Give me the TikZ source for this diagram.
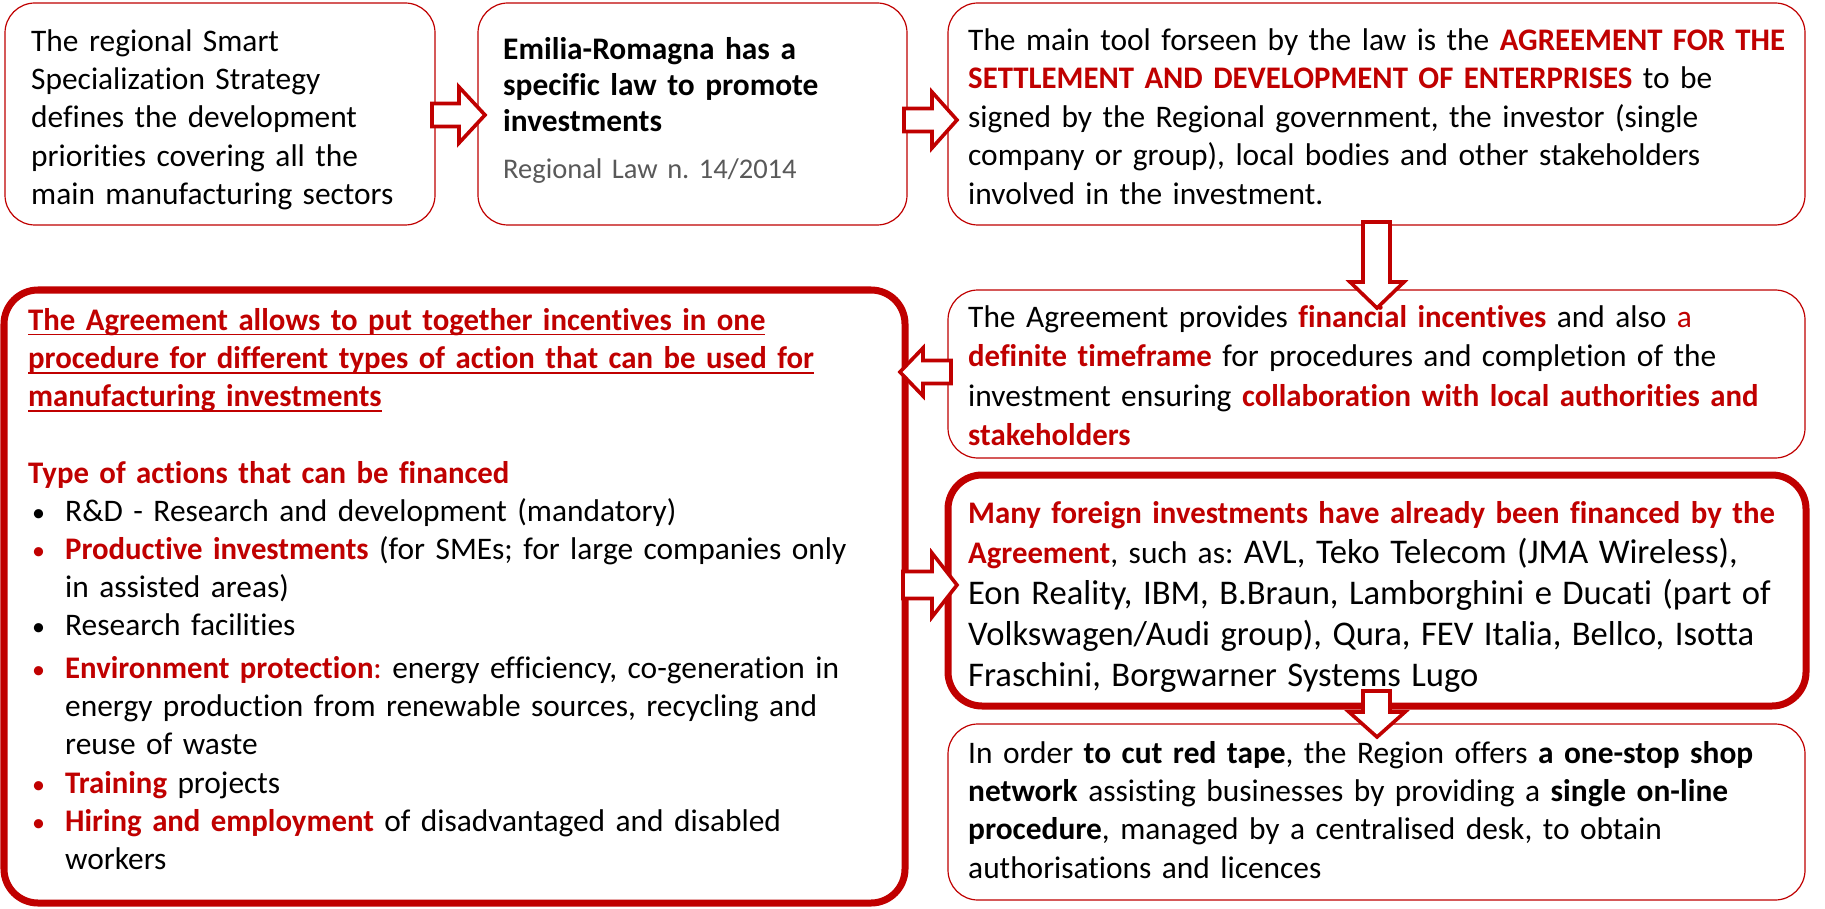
\documentclass[tikz,border=0pt]{standalone}
\usepackage{fontspec}
\setmainfont{Carlito}[Ligatures=NoCommon]
\definecolor{rd}{HTML}{C00000}
\definecolor{gr}{HTML}{595959}
\newcommand\rb[1]{{\color{rd}\bfseries\addfontfeatures{FakeStretch=0.98}#1}}
\newcommand\bl[1]{\leavevmode\hspace*{4pt}\makebox[33pt][l]{\color{#1}\fontsize{26}{30}\selectfont\textbullet}}
\newcommand\cont{\leavevmode\hspace*{37pt}}
\newcommand\fst{\leavevmode\rule{0pt}{26pt}}
\newsavebox\ulbox
\newcommand\myul[1]{\leavevmode\sbox\ulbox{#1}\rlap{\rule[-5.2pt]{\wd\ulbox}{1.7pt}}\usebox\ulbox}
\frenchspacing
\begin{document}
\begin{tikzpicture}[x=1pt,y=-1pt,
  thinbox/.style={draw=rd, line width=1.2pt, rounded corners=30pt, fill=white, inner sep=0pt},
  thickbox/.style={draw=rd, line width=7pt, rounded corners=34pt, fill=white, inner sep=0pt},
  txt/.style={anchor=north west, inner sep=0pt, align=left, text width=#1},
  txt/.default=870pt,
  blockarrow/.style={draw=rd, fill=white, line width=3.6pt, line join=miter}
]
\fill[white] (0,0) rectangle (1825,909);
\useasboundingbox (0,0) rectangle (1825,909);

% boxes
\node[thinbox, minimum width=430pt, minimum height=222pt] (b1) at (220,114) {};
\node[thinbox, minimum width=429pt, minimum height=222pt] (b2) at (692.5,114) {};
\node[thinbox, minimum width=857pt, minimum height=222pt] (b3) at (1376.5,114) {};
\node[thinbox, minimum width=857pt, minimum height=168pt] (b4) at (1376.5,374) {};
\node[thickbox, minimum width=901pt, minimum height=613pt] (big) at (454.5,596.5) {};
\node[thickbox, minimum width=858pt, minimum height=231pt] (b5) at (1377,590.5) {};
\node[thinbox, minimum width=857pt, minimum height=176pt] (b6) at (1376.5,812) {};

% texts
\node[txt=420pt, font=\fontsize{31.4}{38.4}\selectfont] (t1) at (31,25) {\fst The regional Smart\\
Specialization Strategy\\
defines the development\\
priorities covering all the\\
main manufacturing sectors};

\node[txt=420pt, font=\fontsize{31.4}{36}\bfseries\selectfont] (t2) at (503,33) {\fst Emilia-Romagna has a\\
specific law to promote\\
investments};
\node[txt=420pt, font=\fontsize{28.5}{36}\selectfont, text=gr] (t2b) at (503,152.5) {\fst Regional Law n. 14/2014};

\node[txt=850pt, font=\fontsize{31.4}{38.6}\selectfont] (t3) at (968,24) {\fst The main tool forseen by the law is the \rb{AGREEMENT FOR THE}\\
\rb{SETTLEMENT AND DEVELOPMENT OF ENTERPRISES} to be\\
signed by the Regional government, the investor (single\\
company or group), local bodies and other stakeholders\\
involved in the investment.};

\node[txt=850pt, font=\fontsize{31.4}{39.2}\selectfont] (t4) at (968,301.5) {\fst The Agreement provides \rb{financial incentives} and also {\color{rd}a}\\
\rb{definite timeframe} for procedures and completion of the\\
investment ensuring \rb{collaboration with local authorities and}\\
\rb{stakeholders}};

\node[txt=870pt, font=\fontsize{31.4}{38.2}\selectfont] (t5) at (28,304) {\fst{\color{rd}\bfseries\addfontfeatures{FakeStretch=0.98}\myul{The Agreement allows to put together incentives in one}}\\
{\color{rd}\bfseries\addfontfeatures{FakeStretch=0.98}\myul{procedure for different types of action that can be used for}}\\
{\color{rd}\bfseries\addfontfeatures{FakeStretch=0.98}\myul{manufacturing investments}}\\
\mbox{}\\
\rb{Type of actions that can be financed}\\
\bl{black}R\&D - Research and development (mandatory)\\
\bl{rd}\rb{Productive investments} (for SMEs; for large companies only\\
\cont in assisted areas)\\
\bl{black}Research facilities\\[4.5pt]
\bl{rd}\rb{Environment protection}{\color{rd}:} energy efficiency, co-generation in\\
\cont energy production from renewable sources, recycling and\\
\cont reuse of waste\\
\bl{rd}\rb{Training} projects\\
\bl{rd}\rb{Hiring and employment} of disadvantaged and disabled\\
\cont workers};

\node[txt=850pt, font=\fontsize{31.4}{40.7}\selectfont] (t6) at (968,497) {\fst\rb{Many foreign investments have already been financed by the}\\
\rb{Agreement}, such as: {\fontsize{34.6}{40.7}\selectfont AVL, Teko Telecom (JMA Wireless),}\\
{\fontsize{34.6}{40.7}\selectfont Eon Reality, IBM, B.Braun, Lamborghini e Ducati (part of}\\
{\fontsize{34.6}{40.7}\selectfont Volkswagen/Audi group), Qura, FEV Italia, Bellco, Isotta}\\
{\fontsize{34.6}{40.7}\selectfont Fraschini, Borgwarner Systems Lugo}};

\node[txt=850pt, font=\fontsize{31.4}{38.3}\selectfont] (t7) at (968,737) {\fst In order \textbf{to cut red tape}, the Region offers \textbf{a one-stop shop}\\
\textbf{network} assisting businesses by providing a \textbf{single on-line}\\
\textbf{procedure}, managed by a centralised desk, to obtain\\
authorisations and licences};

% block arrows
\draw[blockarrow] (432,103.5) -- (459,103.5) -- (459,87) -- (485,115) -- (459,143) -- (459,126.5) -- (432,126.5) -- cycle;
\draw[blockarrow] (904,108.5) -- (932,108.5) -- (932,92) -- (957,120) -- (932,148) -- (932,131.5) -- (904,131.5) -- cycle;
\draw[blockarrow] (1363,222) -- (1390,222) -- (1390,282) -- (1404,282) -- (1377,308) -- (1350,282) -- (1363,282) -- cycle;
\draw[blockarrow] (951,360.5) -- (923,360.5) -- (923,348) -- (900,372) -- (923,396) -- (923,383.5) -- (951,383.5) -- cycle;
\draw[blockarrow] (903,571.5) -- (932,571.5) -- (932,553) -- (957,585) -- (932,617) -- (932,598.5) -- (903,598.5) -- cycle;
\draw[blockarrow] (1363,691) -- (1390,691) -- (1390,712) -- (1405,712) -- (1377,737) -- (1349,712) -- (1363,712) -- cycle;
\end{tikzpicture}
\end{document}
